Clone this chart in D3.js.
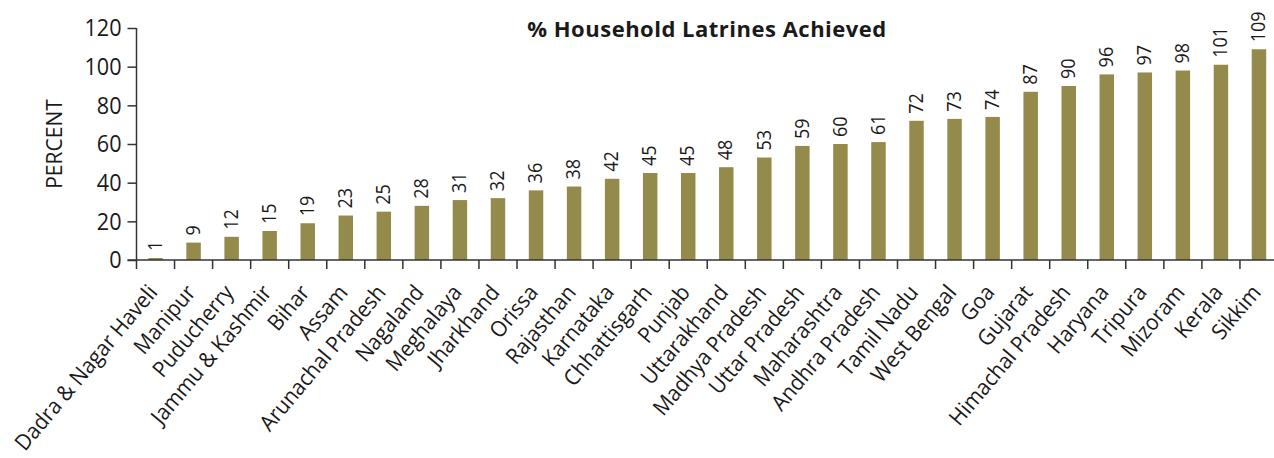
<!DOCTYPE html>
<html>
<head>
<meta charset="utf-8">
<script src="https://cdn.jsdelivr.net/npm/d3@7"></script>
<style>
  html, body { margin: 0; padding: 0; background: #fff; }
  svg { display: block; }
  text { font-family: "Open Sans", "Noto Sans", sans-serif; fill: #1a1a1a; }
</style>
</head>
<body>
<svg id="chart" width="1274" height="458"></svg>
<script>
// States / UTs, ordered by share of household latrines achieved
const states = [
  "Dadra & Nagar Haveli", "Manipur", "Puducherry", "Jammu & Kashmir", "Bihar",
  "Assam", "Arunachal Pradesh", "Nagaland", "Meghalaya", "Jharkhand",
  "Orissa", "Rajasthan", "Karnataka", "Chhattisgarh", "Punjab",
  "Uttarakhand", "Madhya Pradesh", "Uttar Pradesh", "Maharashtra", "Andhra Pradesh",
  "Tamil Nadu", "West Bengal", "Goa", "Gujarat", "Himachal Pradesh",
  "Haryana", "Tripura", "Mizoram", "Kerala", "Sikkim"
];
const achieved = [
  1, 9, 12, 15, 19,
  23, 25, 28, 31, 32,
  36, 38, 42, 45, 45,
  48, 53, 59, 60, 61,
  72, 73, 74, 87, 90,
  96, 97, 98, 101, 109
];
const yTicks = [0, 20, 40, 60, 80, 100, 120];
const title = "% Household Latrines Achieved";
const yTitle = "PERCENT";

const svg = d3.select("#chart");
const x0 = 136.5, x1 = 1278, yBase = 260, yTop = 28;
const barColor = "#938a4b";
const axisColor = "#333";
const narrow = 0.9; // horizontal squeeze for the condensed label face

const x = d3.scaleBand().domain(states).range([x0, x1])
  .paddingInner(0.62).paddingOuter(0.31);
const y = d3.scaleLinear().domain([0, 120]).range([yBase, yTop]);
const step = x.step();
const cx = d => x(d) + x.bandwidth() / 2;

// Bars
svg.append("g").selectAll("rect")
  .data(states)
  .join("rect")
  .attr("x", d => x(d))
  .attr("width", x.bandwidth())
  .attr("y", (d, i) => y(achieved[i]))
  .attr("height", (d, i) => yBase - y(achieved[i]))
  .attr("fill", barColor);

// Value labels, rotated above each bar
svg.append("g").selectAll("text")
  .data(states)
  .join("text")
  .attr("transform", (d, i) =>
    `translate(${cx(d) - 1},${y(achieved[i]) - 7}) rotate(-90) scale(${narrow},1)`)
  .attr("dy", "0.36em")
  .attr("font-size", 20)
  .text((d, i) => achieved[i]);

// Y axis
const yAxis = d3.axisLeft(y).tickValues(yTicks).tickSize(9).tickPadding(6);
const gy = svg.append("g").attr("transform", `translate(${x0},0)`).call(yAxis);
gy.select(".domain").remove();
gy.selectAll(".tick line").attr("stroke", axisColor).attr("stroke-width", 1.5);
gy.selectAll(".tick text")
  .attr("font-size", 24).attr("fill", "#1a1a1a")
  .attr("font-family", "'Open Sans', sans-serif")
  .attr("text-anchor", "end")
  .attr("transform", `translate(-15,0) scale(${narrow},1)`)
  .attr("x", 0);
svg.append("line")
  .attr("x1", x0).attr("x2", x0).attr("y1", yTop).attr("y2", yBase + 9)
  .attr("stroke", axisColor).attr("stroke-width", 1.5);

// X axis: baseline with ticks on category boundaries
svg.append("line")
  .attr("x1", x0 - 9).attr("x2", 1274).attr("y1", yBase).attr("y2", yBase)
  .attr("stroke", axisColor).attr("stroke-width", 1.5);
svg.append("g").selectAll("line")
  .data(d3.range(1, states.length + 1))
  .join("line")
  .attr("x1", i => x0 + i * step).attr("x2", i => x0 + i * step)
  .attr("y1", yBase).attr("y2", yBase + 9)
  .attr("stroke", axisColor).attr("stroke-width", 1.5);

// Category labels, slanted, ending just below each bar
svg.append("g").selectAll("text")
  .data(states)
  .join("text")
  .attr("transform", d =>
    `translate(${cx(d) + 3},${yBase + 33}) rotate(-50) scale(0.94,1)`)
  .attr("text-anchor", "end")
  .attr("font-size", 22)
  .text(d => d);

// Axis title
svg.append("text")
  .attr("transform", `translate(62,${(yTop + yBase) / 2}) rotate(-90)`)
  .attr("text-anchor", "middle")
  .attr("font-size", 21)
  .text(yTitle);

// Chart title
svg.append("text")
  .attr("x", 707).attr("y", 37)
  .attr("text-anchor", "middle")
  .attr("font-size", 22)
  .attr("letter-spacing", 0.5)
  .attr("font-weight", "bold")
  .text(title);
</script>
</body>
</html>
